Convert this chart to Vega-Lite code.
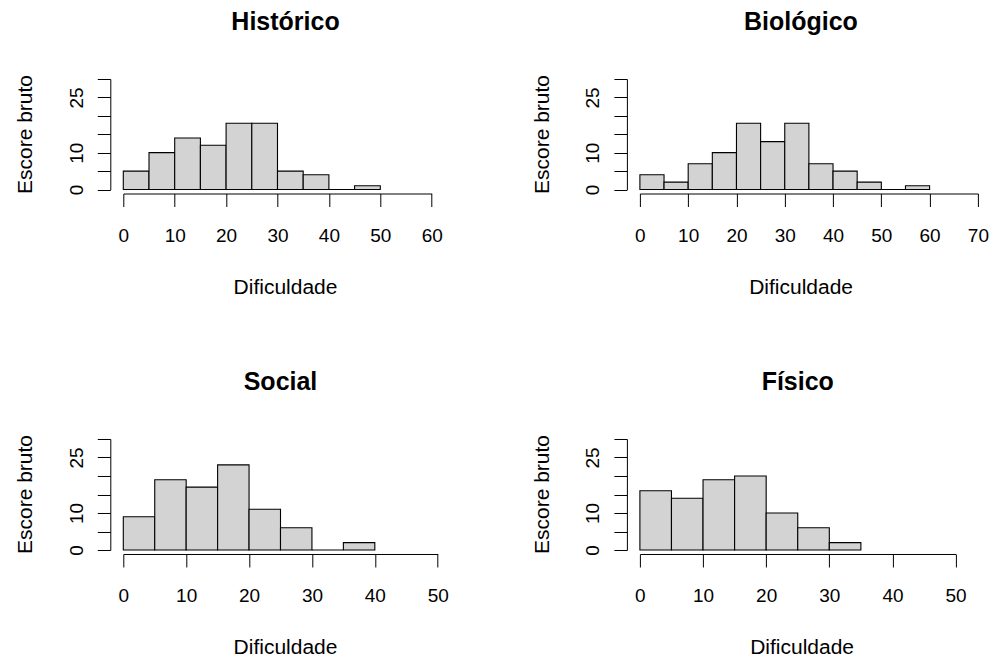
{
  "$schema": "https://vega.github.io/schema/vega-lite/v6.json",
  "background": "white",
  "padding": {"left": 14.3, "top": 10, "right": 0, "bottom": 0},
  "config": {
    "font": "Liberation Sans",
    "view": {"stroke": null},
    "axis": {
      "grid": false,
      "domainColor": "black",
      "domainWidth": 1,
      "tickColor": "black",
      "tickWidth": 1,
      "tickSize": 13,
      "labelFontSize": 19,
      "labelColor": "black",
      "labelFlush": false,
      "labelOverlap": false,
      "titleFontSize": 21,
      "titleFontWeight": "normal",
      "titleColor": "black"
    },
    "axisX": {
      "offset": 4,
      "labelAngle": 0,
      "labelPadding": 35,
      "labelBaseline": "alphabetic",
      "titleY": 99.5,
      "titleBaseline": "alphabetic",
      "titleAlign": "center"
    },
    "axisY": {
      "offset": 13,
      "labelAngle": 270,
      "labelAlign": "center",
      "labelBaseline": "alphabetic",
      "labelPadding": 15,
      "titleAngle": 270,
      "titleAlign": "center",
      "titleBaseline": "alphabetic",
      "titleX": -78.3,
      "titleY": 55
    },
    "title": {"fontSize": 25, "fontWeight": "bold", "color": "black", "baseline": "alphabetic", "offset": 39, "anchor": "middle"}
  },
  "data": {
    "values": [
      {"painel": "Histórico", "inicio": 0, "fim": 5, "contagem": 5},
      {"painel": "Histórico", "inicio": 5, "fim": 10, "contagem": 10},
      {"painel": "Histórico", "inicio": 10, "fim": 15, "contagem": 14},
      {"painel": "Histórico", "inicio": 15, "fim": 20, "contagem": 12},
      {"painel": "Histórico", "inicio": 20, "fim": 25, "contagem": 18},
      {"painel": "Histórico", "inicio": 25, "fim": 30, "contagem": 18},
      {"painel": "Histórico", "inicio": 30, "fim": 35, "contagem": 5},
      {"painel": "Histórico", "inicio": 35, "fim": 40, "contagem": 4},
      {"painel": "Histórico", "inicio": 40, "fim": 45, "contagem": 0},
      {"painel": "Histórico", "inicio": 45, "fim": 50, "contagem": 1},
      {"painel": "Biológico", "inicio": 0, "fim": 5, "contagem": 4},
      {"painel": "Biológico", "inicio": 5, "fim": 10, "contagem": 2},
      {"painel": "Biológico", "inicio": 10, "fim": 15, "contagem": 7},
      {"painel": "Biológico", "inicio": 15, "fim": 20, "contagem": 10},
      {"painel": "Biológico", "inicio": 20, "fim": 25, "contagem": 18},
      {"painel": "Biológico", "inicio": 25, "fim": 30, "contagem": 13},
      {"painel": "Biológico", "inicio": 30, "fim": 35, "contagem": 18},
      {"painel": "Biológico", "inicio": 35, "fim": 40, "contagem": 7},
      {"painel": "Biológico", "inicio": 40, "fim": 45, "contagem": 5},
      {"painel": "Biológico", "inicio": 45, "fim": 50, "contagem": 2},
      {"painel": "Biológico", "inicio": 50, "fim": 55, "contagem": 0},
      {"painel": "Biológico", "inicio": 55, "fim": 60, "contagem": 1},
      {"painel": "Social", "inicio": 0, "fim": 5, "contagem": 9},
      {"painel": "Social", "inicio": 5, "fim": 10, "contagem": 19},
      {"painel": "Social", "inicio": 10, "fim": 15, "contagem": 17},
      {"painel": "Social", "inicio": 15, "fim": 20, "contagem": 23},
      {"painel": "Social", "inicio": 20, "fim": 25, "contagem": 11},
      {"painel": "Social", "inicio": 25, "fim": 30, "contagem": 6},
      {"painel": "Social", "inicio": 30, "fim": 35, "contagem": 0},
      {"painel": "Social", "inicio": 35, "fim": 40, "contagem": 2},
      {"painel": "Físico", "inicio": 0, "fim": 5, "contagem": 16},
      {"painel": "Físico", "inicio": 5, "fim": 10, "contagem": 14},
      {"painel": "Físico", "inicio": 10, "fim": 15, "contagem": 19},
      {"painel": "Físico", "inicio": 15, "fim": 20, "contagem": 20},
      {"painel": "Físico", "inicio": 20, "fim": 25, "contagem": 10},
      {"painel": "Físico", "inicio": 25, "fim": 30, "contagem": 6},
      {"painel": "Físico", "inicio": 30, "fim": 35, "contagem": 2}
    ]
  },
  "spacing": 360,
  "bounds": "flush",
  "vconcat": [
    {
      "spacing": 207.6,
      "bounds": "flush",
      "hconcat": [
        {
          "width": 308.4,
          "height": 110.5,
          "title": {"text": "Histórico", "dx": 8},
          "transform": [{"filter": "datum.painel == 'Histórico'"}],
          "mark": {"type": "rect", "fill": "#d3d3d3", "stroke": "black", "strokeWidth": 1.1},
          "encoding": {
            "x": {"field": "inicio", "type": "quantitative", "scale": {"domain": [0, 60], "nice": false, "zero": false},
                  "axis": {"values": [0, 10, 20, 30, 40, 50, 60], "title": "Dificuldade", "titleX": 161.7}},
            "x2": {"field": "fim"},
            "y": {"field": "contagem", "type": "quantitative", "scale": {"domain": [0, 30], "nice": false},
                  "axis": {"title": "Escore bruto", "values": [0, 5, 10, 15, 20, 25, 30], "labelExpr": "datum.value == 0 || datum.value == 10 || datum.value == 25 ? datum.label : ''"}},
            "y2": {"datum": 0}
          }
        },
        {
          "width": 338,
          "height": 110.5,
          "title": {"text": "Biológico", "dx": -8},
          "transform": [{"filter": "datum.painel == 'Biológico'"}],
          "mark": {"type": "rect", "fill": "#d3d3d3", "stroke": "black", "strokeWidth": 1.1},
          "encoding": {
            "x": {"field": "inicio", "type": "quantitative", "scale": {"domain": [0, 70], "nice": false, "zero": false},
                  "axis": {"values": [0, 10, 20, 30, 40, 50, 60, 70], "title": "Dificuldade", "titleX": 160.7}},
            "x2": {"field": "fim"},
            "y": {"field": "contagem", "type": "quantitative", "scale": {"domain": [0, 30], "nice": false},
                  "axis": {"title": "Escore bruto", "values": [0, 5, 10, 15, 20, 25, 30], "labelExpr": "datum.value == 0 || datum.value == 10 || datum.value == 25 ? datum.label : ''"}},
            "y2": {"datum": 0}
          }
        }
      ]
    },
    {
      "spacing": 201.6,
      "bounds": "flush",
      "hconcat": [
        {
          "width": 314.4,
          "height": 111,
          "title": {"text": "Social"},
          "transform": [{"filter": "datum.painel == 'Social'"}],
          "mark": {"type": "rect", "fill": "#d3d3d3", "stroke": "black", "strokeWidth": 1.1},
          "encoding": {
            "x": {"field": "inicio", "type": "quantitative", "scale": {"domain": [0, 50], "nice": false, "zero": false},
                  "axis": {"values": [0, 10, 20, 30, 40, 50], "title": "Dificuldade", "titleX": 161.7}},
            "x2": {"field": "fim"},
            "y": {"field": "contagem", "type": "quantitative", "scale": {"domain": [0, 30], "nice": false},
                  "axis": {"title": "Escore bruto", "values": [0, 5, 10, 15, 20, 25, 30], "labelExpr": "datum.value == 0 || datum.value == 10 || datum.value == 25 ? datum.label : ''"}},
            "y2": {"datum": 0}
          }
        },
        {
          "width": 315.7,
          "height": 111,
          "title": {"text": "Físico"},
          "transform": [{"filter": "datum.painel == 'Físico'"}],
          "mark": {"type": "rect", "fill": "#d3d3d3", "stroke": "black", "strokeWidth": 1.1},
          "encoding": {
            "x": {"field": "inicio", "type": "quantitative", "scale": {"domain": [0, 50], "nice": false, "zero": false},
                  "axis": {"values": [0, 10, 20, 30, 40, 50], "title": "Dificuldade", "titleX": 161.7}},
            "x2": {"field": "fim"},
            "y": {"field": "contagem", "type": "quantitative", "scale": {"domain": [0, 30], "nice": false},
                  "axis": {"title": "Escore bruto", "values": [0, 5, 10, 15, 20, 25, 30], "labelExpr": "datum.value == 0 || datum.value == 10 || datum.value == 25 ? datum.label : ''"}},
            "y2": {"datum": 0}
          }
        }
      ]
    }
  ]
}
